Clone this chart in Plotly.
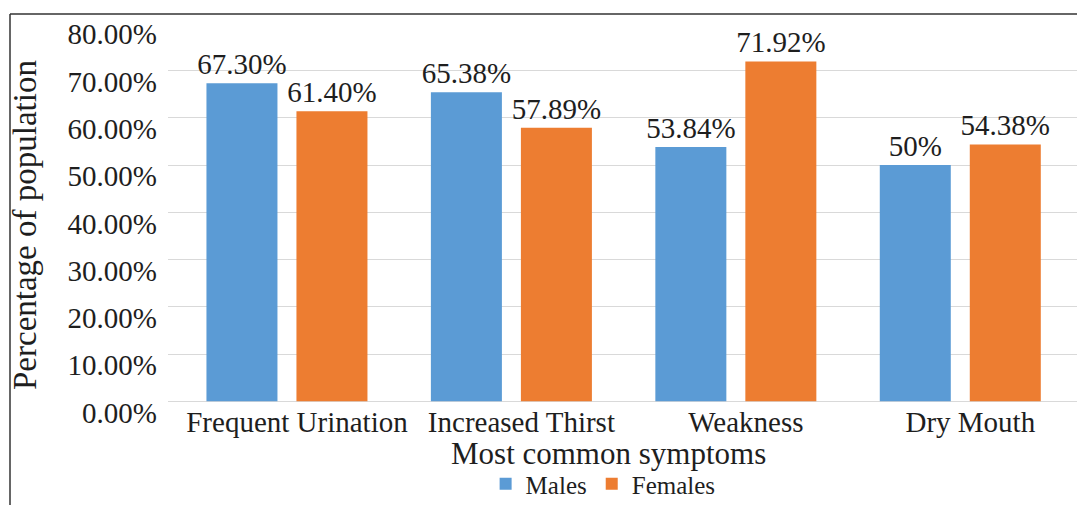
import plotly.graph_objects as go

# Symptom categories and share of each group reporting them
symptoms = ["Frequent Urination", "Increased Thirst", "Weakness", "Dry Mouth"]
males = [0.6730, 0.6538, 0.5384, 0.50]
females = [0.6140, 0.5789, 0.7192, 0.5438]
male_labels = ["67.30%", "65.38%", "53.84%", "50%"]
female_labels = ["61.40%", "57.89%", "71.92%", "54.38%"]
y_ticks = [0, 0.1, 0.2, 0.3, 0.4, 0.5, 0.6, 0.7, 0.8]

W, H = 1077, 505
FONT = "Liberation Serif, Times New Roman, serif"
INK = "#1e1e1e"
BLUE = "#5B9BD5"
ORANGE = "#ED7D31"

label_font = dict(family=FONT, size=29, color=INK)

fig = go.Figure()
fig.add_bar(
    name="Males", x=symptoms, y=males, marker_color=BLUE,
    marker_line_width=0,
    text=male_labels, textposition="outside", cliponaxis=False,
    constraintext="none",
    textfont=label_font, outsidetextfont=label_font,
)
fig.add_bar(
    name="Females", x=symptoms, y=females, marker_color=ORANGE,
    marker_line_width=0,
    text=female_labels, textposition="outside", cliponaxis=False,
    constraintext="none",
    textfont=label_font, outsidetextfont=label_font,
)

fig.update_layout(
    width=W, height=H,
    margin=dict(l=0, r=0, t=0, b=0, autoexpand=False),
    paper_bgcolor="white", plot_bgcolor="white",
    barmode="group", bargap=0.198, bargroupgap=0.211,
    font=dict(family=FONT, color=INK),
    showlegend=True,
    legend=dict(
        orientation="h", x=0.56, xanchor="center", y=-0.004, yanchor="bottom",
        font=dict(family=FONT, size=25, color=INK),
        itemwidth=30, tracegroupgap=0,
        bgcolor="rgba(0,0,0,0)",
    ),
)

fig.update_xaxes(
    domain=[168 / W, 1.0],
    range=[-0.53, 3.52],
    showgrid=False, showline=False, zeroline=False,
    ticks="", tickfont=dict(family=FONT, size=29, color=INK),
    ticklabelstandoff=0, ticklabelshift=10,
    automargin=False,
)
fig.update_yaxes(
    domain=[1 - 401.5 / H, 1 - 23 / H],
    range=[0, 0.8005],
    tickvals=y_ticks, tickformat=".2%",
    showgrid=True, gridcolor="#d9d9d9", gridwidth=1,
    zeroline=True, zerolinecolor="#d9d9d9", zerolinewidth=1,
    showline=False, ticks="",
    tickfont=dict(family=FONT, size=29, color=INK),
    ticklabelstandoff=10, ticklabelshift=11,
    automargin=False,
)

# Axis titles
fig.add_annotation(
    text="Percentage of population", xref="paper", yref="paper",
    x=25 / W, y=1 - 225 / H, xanchor="center", yanchor="middle",
    textangle=-90, showarrow=False,
    font=dict(family=FONT, size=33, color=INK),
)
fig.add_annotation(
    text="Most common symptoms", xref="paper", yref="paper",
    x=608 / W, y=1 - 453 / H, xanchor="center", yanchor="middle",
    showarrow=False,
    font=dict(family=FONT, size=31, color=INK),
)

# Frame lines along the top and left edges
fig.add_shape(type="line", xref="paper", yref="paper",
              x0=10 / W, x1=1.0, y0=1 - 14 / H, y1=1 - 14 / H,
              line=dict(color="#333333", width=1.5))
fig.add_shape(type="line", xref="paper", yref="paper",
              x0=10 / W, x1=10 / W, y0=0, y1=1 - 14 / H,
              line=dict(color="#333333", width=1.5))

fig.write_html("out.html")
